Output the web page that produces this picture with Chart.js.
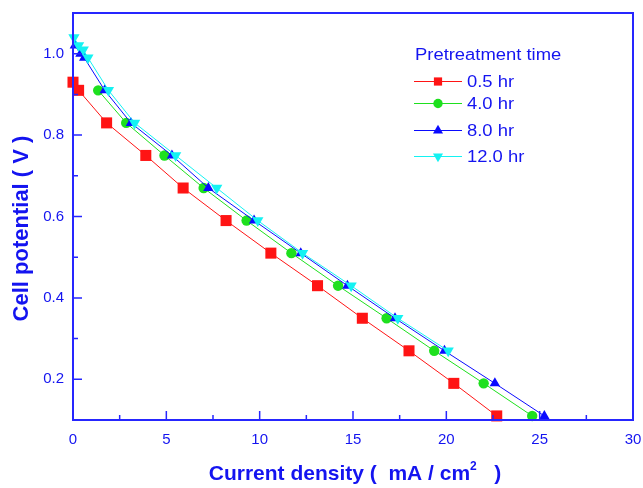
<!DOCTYPE html>
<html lang="en">
<head>
  <meta charset="UTF-8">
  <title>Cell potential vs current density</title>
  <script src="https://cdn.jsdelivr.net/npm/chart.js"></script>
  <style>
    html, body { margin: 0; padding: 0; background: #fff; }
    #wrap { width: 643px; height: 488px; }
  </style>
</head>
<body>
  <div id="wrap"><canvas id="chart" width="643" height="488"></canvas></div>

  <script>
    // Data
    const labels = ["0.5 hr", "4.0 hr", "8.0 hr", "12.0 hr"];

    const x05 = [0.0, 0.3, 1.8, 3.9, 5.9, 8.2, 10.6, 13.1, 15.5, 18.0, 20.4, 22.7];
    const y05 = [0.93, 0.91, 0.83, 0.75, 0.67, 0.59, 0.51, 0.43, 0.35, 0.27, 0.19, 0.11];

    const x40 = [1.35, 2.85, 4.9, 7.0, 9.3, 11.7, 14.2, 16.8, 19.35, 22.0, 24.6];
    const y40 = [0.91, 0.83, 0.75, 0.67, 0.59, 0.51, 0.43, 0.35, 0.27, 0.19, 0.11];

    const x80 = [0.1, 0.4, 0.6, 1.7, 3.1, 5.3, 7.25, 9.7, 12.2, 14.7, 17.25, 19.9, 22.6, 25.25];
    const y80 = [1.02, 1.0, 0.99, 0.91, 0.83, 0.75, 0.67, 0.59, 0.51, 0.43, 0.35, 0.27, 0.19, 0.11];

    const x120 = [0.05, 0.3, 0.55, 0.8, 1.9, 3.3, 5.5, 7.7, 9.9, 12.3, 14.9, 17.4, 20.1];
    const y120 = [1.04, 1.02, 1.01, 0.99, 0.91, 0.83, 0.75, 0.67, 0.59, 0.51, 0.43, 0.35, 0.27];

    const xTicks = [0, 5, 10, 15, 20, 25, 30];
    const xMinor = [2.5, 7.5, 12.5, 17.5, 22.5, 27.5];
    const yTicks = [0.2, 0.4, 0.6, 0.8, 1.0];
    const yMinor = [0.1, 0.3, 0.5, 0.7, 0.9, 1.1];

    const AXIS = "#2626ff";
    const TEXT = "#1414f0";
    const FONT = "'Liberation Sans', Arial, sans-serif";

    const toPts = (xs, ys) => xs.map((x, i) => ({ x: x, y: ys[i] }));

    const styles = [
      { color: "#ff1414", pointStyle: "rect", radius: 7.8, rotation: 0, lradius: 5.8 },
      { color: "#1ee01e", pointStyle: "circle", radius: 5.2, rotation: 0, lradius: 4.7 },
      { color: "#0a0aff", pointStyle: "triangle", radius: 6, rotation: 0, lradius: 5.8 },
      { color: "#14f2f2", pointStyle: "triangle", radius: 6.5, rotation: 180, lradius: 5.8 }
    ];
    const series = [toPts(x05, y05), toPts(x40, y40), toPts(x80, y80), toPts(x120, y120)];

    const datasets = series.map((d, i) => ({
      label: labels[i],
      data: d,
      borderColor: styles[i].color,
      backgroundColor: styles[i].color,
      borderWidth: 1,
      pointStyle: styles[i].pointStyle,
      pointRadius: styles[i].radius,
      pointRotation: styles[i].rotation,
      pointBorderWidth: 0,
      pointBackgroundColor: styles[i].color,
      clip: false,
      order: 3 - i
    }));

    // frame, inward ticks, axis titles and legend
    const decorations = {
      id: "decorations",
      afterDraw(chart) {
        const ctx = chart.ctx;
        const a = chart.chartArea;
        const xs = chart.scales.x, ys = chart.scales.y;
        ctx.save();
        ctx.strokeStyle = AXIS;
        ctx.lineWidth = 2;
        ctx.strokeRect(a.left, a.top, a.right - a.left, a.bottom - a.top);

        ctx.lineWidth = 1.5;
        ctx.beginPath();
        xTicks.forEach(v => { const p = xs.getPixelForValue(v); ctx.moveTo(p, a.bottom); ctx.lineTo(p, a.bottom - 9); });
        xMinor.forEach(v => { const p = xs.getPixelForValue(v); ctx.moveTo(p, a.bottom); ctx.lineTo(p, a.bottom - 5); });
        yTicks.forEach(v => { const p = ys.getPixelForValue(v); ctx.moveTo(a.left, p); ctx.lineTo(a.left + 9, p); });
        yMinor.forEach(v => { const p = ys.getPixelForValue(v); ctx.moveTo(a.left, p); ctx.lineTo(a.left + 5, p); });
        ctx.stroke();

        // x title with superscript
        ctx.fillStyle = TEXT;
        ctx.textBaseline = "alphabetic";
        const parts = [
          { t: "Current density (  mA / cm", f: "bold 21px " + FONT, dy: 0 },
          { t: "2", f: "bold 12px " + FONT, dy: -10 },
          { t: "   )", f: "bold 21px " + FONT, dy: 0 }
        ];
        let total = 0;
        parts.forEach(p => { ctx.font = p.f; p.w = ctx.measureText(p.t).width; total += p.w; });
        let cx = 355 - total / 2;
        parts.forEach(p => { ctx.font = p.f; ctx.fillText(p.t, cx, 480 + p.dy); cx += p.w; });

        // y title
        ctx.save();
        ctx.translate(28, (a.top + a.bottom) / 2 + 12);
        ctx.rotate(-Math.PI / 2);
        ctx.font = "bold 22px " + FONT;
        ctx.textAlign = "center";
        ctx.fillText("Cell potential ( V )", 0, 0);
        ctx.restore();

        // legend
        ctx.save();
        ctx.textBaseline = "middle";
        ctx.font = "16px " + FONT;
        ctx.translate(415, 56);
        ctx.scale(1.15, 1);
        ctx.fillText("Pretreatment time", 0, 0);
        ctx.restore();
        const rows = [81, 103, 130, 156];
        rows.forEach((ry, i) => {
          const s = styles[i];
          ctx.fillStyle = s.color;
          ctx.fillRect(414, ry, 48, 1);
          Chart.helpers.drawPoint(ctx, {
            pointStyle: s.pointStyle, radius: s.lradius, rotation: s.rotation, borderWidth: 0
          }, 438, ry + 0.5);
          ctx.save();
          ctx.fillStyle = TEXT;
          ctx.textBaseline = "middle";
          ctx.font = "16px " + FONT;
          ctx.translate(467, ry + 1.5);
          ctx.scale(1.15, 1);
          ctx.fillText(labels[i], 0, 0);
          ctx.restore();
        });
        ctx.restore();
      }
    };

    new Chart(document.getElementById("chart"), {
      type: "line",
      data: { datasets: datasets },
      options: {
        responsive: false,
        animation: false,
        layout: { padding: { left: 0, right: 10, top: 13, bottom: 0 } },
        plugins: { legend: { display: false }, tooltip: { enabled: false } },
        scales: {
          x: {
            type: "linear",
            min: 0, max: 30,
            afterBuildTicks: s => { s.ticks = xTicks.map(v => ({ value: v })); },
            afterFit: s => { s.height = 68; s.paddingLeft = 0; s.paddingRight = 0; },
            grid: { display: false, drawTicks: false },
            border: { display: false },
            ticks: { color: TEXT, font: { family: FONT, size: 15 }, padding: 11, maxRotation: 0 },
            title: { display: false }
          },
          y: {
            type: "linear",
            min: 0.1, max: 1.1,
            afterBuildTicks: s => { s.ticks = yTicks.map(v => ({ value: v })); },
            afterFit: s => { s.width = 73; s.paddingTop = 0; s.paddingBottom = 0; },
            grid: { display: false, drawTicks: false },
            border: { display: false },
            ticks: { color: TEXT, font: { family: FONT, size: 15 }, padding: 9, callback: v => v.toFixed(1) },
            title: { display: false }
          }
        }
      },
      plugins: [decorations]
    });
  </script>
</body>
</html>
